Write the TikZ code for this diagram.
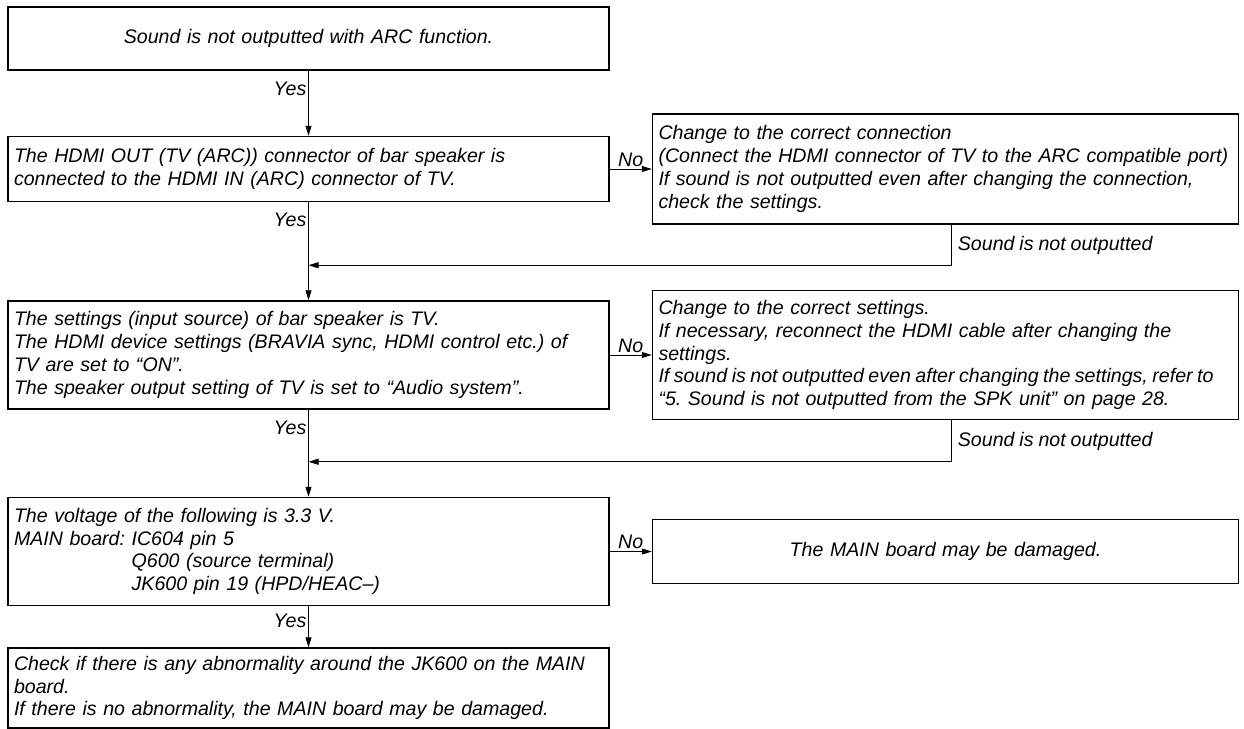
\documentclass[tikz,border=0pt]{standalone}
\usepackage{fontspec}
\setmainfont[WordSpace=0.9]{Liberation Sans}
\usetikzlibrary{arrows.meta, positioning}
\frenchspacing

\begin{document}
\begin{tikzpicture}[
      x=1pt, y=1pt,
      node distance=42pt,
      every node/.style={font=\fontsize{19.6}{22.8}\selectfont\itshape},
      box/.style={draw, line width=1.5pt, text width=589pt, align=left, inner xsep=6pt, inner ysep=0pt},
      rbox/.style={box, text width=574pt},
      lbl/.style={inner sep=2pt},
      link/.style={->, line width=0.8pt},
      >={Triangle[length=10pt, width=6pt]},
    ]
    \useasboundingbox (0,0) rectangle (1244,-728);
    % main column
    \node[box, align=center, minimum height=63pt] (start) at (308.5,-38.5) {Sound is not outputted with ARC function.};
    \node[box, minimum height=65pt, below=65pt of start] (conn) {The HDMI OUT (TV (ARC)) connector of bar speaker is\\
      connected to the HDMI IN (ARC) connector of TV.};
    \node[box, minimum height=108pt, below=98pt of conn] (sett) {The settings (input source) of bar speaker is TV.\\
      The HDMI device settings (BRAVIA sync, HDMI control etc.) of\\
      TV are set to “ON”.\\
      The speaker output setting of TV is set to “Audio system”.};
    \node[box, minimum height=108pt, below=87pt of sett] (volt) {The voltage of the following is 3.3 V.\\
      MAIN board: IC604 pin 5\\
      \hphantom{MAIN board: }Q600 (source terminal)\\
      \hphantom{MAIN board: }JK600 pin 19 (HPD/HEAC–)};
    \node[box, minimum height=80pt, below=41pt of volt] (check) {Check if there is any abnormality around the JK600 on the MAIN\\
      board.\\
      If there is no abnormality, the MAIN board may be damaged.};
    % right column
    \node[rbox, minimum height=110pt, right=of conn] (fixconn) {Change to the correct connection\\
      \mbox{(Connect the HDMI connector of TV to the ARC compatible port)}\\
      If sound is not outputted even after changing the connection,\\
      check the settings.};
    \node[rbox, minimum height=129pt, right=of sett] (fixsett) {Change to the correct settings.\\
      If necessary, reconnect the HDMI cable after changing the\\
      settings.\\
      \mbox{\spaceskip=4.5pt If sound is not outputted even after changing the settings, refer to}\\
      “5. Sound is not outputted from the SPK unit” on page 28.};
    \node[rbox, align=center, minimum height=64pt, right=of volt] (damage) {The MAIN board may be damaged.};
    \coordinate[below=63pt of conn.south] (join1);
    \coordinate[below=52pt of sett.south] (join2);

    \draw[link] (start) -- (conn);
    \draw[link] (conn) -- (sett);
    \draw[link] (sett) -- (volt);
    \draw[link] (volt) -- (check);
    \node[lbl, below left=9pt and 0pt of start.south] {Yes};
    \node[lbl, below left=9pt and 0pt of conn.south] {Yes};
    \node[lbl, below left=9pt and 0pt of sett.south] {Yes};
    \node[lbl, below left=6pt and 0pt of volt.south] {Yes};
    \draw[link] (conn) -- node[lbl, above] {No} (fixconn);
    \draw[link] (sett) -- node[lbl, above] {No} (fixsett);
    \draw[link] (volt) -- node[lbl, above] {No} (damage);
    \draw[link] ([xshift=6pt]fixconn.south) |- node[lbl, pos=0.25, right=4pt] {Sound is not outputted} (join1);
    \draw[link] ([xshift=6pt]fixsett.south) |- node[lbl, pos=0.25, right=4pt] {Sound is not outputted} (join2);
  \end{tikzpicture}
\end{document}
